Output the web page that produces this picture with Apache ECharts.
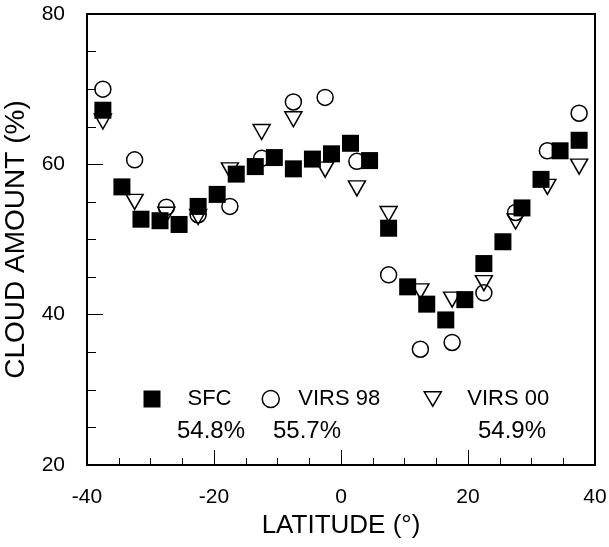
<!DOCTYPE html>
<html>
<head>
<meta charset="utf-8">
<script src="https://cdn.jsdelivr.net/npm/echarts@6/dist/echarts.min.js"></script>
<style>html,body{margin:0;padding:0;background:#fff}#c{width:609px;height:547px}</style>
</head>
<body>
<div id="c"></div>
<script>
// SFC: every 3 degrees of latitude
const sfcLat = [-37.5,-34.5,-31.5,-28.5,-25.5,-22.5,-19.5,-16.5,-13.5,-10.5,-7.5,-4.5,-1.5,1.5,4.5,7.5,10.5,13.5,16.5,19.5,22.5,25.5,28.5,31.5,34.5,37.5];
const sfcVal = [67.2,57.0,52.7,52.5,52.0,54.4,56.0,58.7,59.7,60.9,59.4,60.7,61.4,62.8,60.5,51.5,43.7,41.4,39.3,42.0,46.8,49.7,54.2,58.0,61.8,63.2];
// VIRS: every 5 degrees of latitude
const virsLat = [-37.5,-32.5,-27.5,-22.5,-17.5,-12.5,-7.5,-2.5,2.5,7.5,12.5,17.5,22.5,27.5,32.5,37.5];
const virs98Val = [70.0,60.6,54.3,53.3,54.4,60.8,68.3,68.9,60.4,45.3,35.4,36.3,42.9,53.6,61.8,66.8];
const virs00Val = [65.7,55.0,53.3,53.0,59.2,64.3,66.0,59.3,56.8,53.4,43.1,42.0,44.2,52.4,57.0,59.7];
const seriesNames = ['SFC','VIRS 98','VIRS 00'];
const meanLabels = ['54.8%','55.7%','54.9%'];
const xTicks = [-40,-20,0,20,40];
const yTicks = [20,40,60,80];

const FONT = '"Liberation Sans", Arial, Helvetica, sans-serif';
const pair = (xs, ys) => xs.map((x,i)=>[x, ys[i]]);
const downTri = 'path://M0,0 L20,0 L10,17 Z';

const chart = echarts.init(document.getElementById('c'), null, {renderer:'canvas'});
const legendBase = {
  orient:'horizontal', itemWidth:17, itemHeight:17, selectedMode:false, padding:0, top:388,
  textStyle:{fontFamily:FONT, fontSize:22, color:'#000'}
};
const lt = (pad) => Object.assign({}, legendBase.textStyle, {padding:[0,0,0,pad]});
chart.setOption({
  animation:false,
  backgroundColor:'#fff',
  grid:{left:87, right:14, top:14, bottom:82, outerBoundsMode:'none', containLabel:false,
        show:true, borderColor:'#000', borderWidth:2, backgroundColor:'transparent'},
  xAxis:{
    type:'value', min:xTicks[0], max:xTicks[xTicks.length-1], interval:20,
    name:'LATITUDE (°)', nameLocation:'middle', nameGap:48,
    nameTextStyle:{fontFamily:FONT, fontSize:26, color:'#000'},
    axisLine:{show:true, onZero:false, lineStyle:{color:'#000', width:2}},
    axisTick:{show:true, inside:true, length:15, lineStyle:{color:'#000', width:1}},
    minorTick:{show:true, splitNumber:4, length:7, lineStyle:{color:'#000', width:1}},
    splitLine:{show:false},
    axisLabel:{fontFamily:FONT, fontSize:21, color:'#000', margin:22}
  },
  yAxis:{
    type:'value', min:yTicks[0], max:yTicks[yTicks.length-1], interval:20,
    name:'CLOUD AMOUNT (%)', nameLocation:'middle', nameGap:42,
    nameTextStyle:{fontFamily:FONT, fontSize:28, color:'#000'},
    axisLine:{show:true, onZero:false, lineStyle:{color:'#000', width:2}},
    axisTick:{show:true, inside:true, length:16, lineStyle:{color:'#000', width:1}},
    minorTick:{show:true, splitNumber:4, length:9, lineStyle:{color:'#000', width:1}},
    splitLine:{show:false},
    axisLabel:{fontFamily:FONT, fontSize:21, color:'#000', margin:22}
  },
  legend:[
    Object.assign({}, legendBase, {left:143.5, data:[{name:seriesNames[0], icon:'rect'}],
      itemStyle:{color:'#000', borderWidth:0}, textStyle:lt(22)}),
    Object.assign({}, legendBase, {left:261.5, data:[{name:seriesNames[1], icon:'circle'}],
      itemStyle:{color:'transparent', borderColor:'#000', borderWidth:1.5}, textStyle:lt(14)}),
    Object.assign({}, legendBase, {left:423.5, data:[{name:seriesNames[2], icon:downTri}],
      itemWidth:17, itemHeight:15,
      itemStyle:{color:'transparent', borderColor:'#000', borderWidth:1.5}, textStyle:lt(21)})
  ],
  graphic:[
    {type:'text', left:177, top:419, style:{text:meanLabels[0], font:'24px '+FONT, fill:'#000'}},
    {type:'text', left:273, top:419, style:{text:meanLabels[1], font:'24px '+FONT, fill:'#000'}},
    {type:'text', left:478, top:419, style:{text:meanLabels[2], font:'24px '+FONT, fill:'#000'}}
  ],
  series:[
    {name:seriesNames[1], type:'scatter', symbol:'circle', symbolSize:16, z:2,
     itemStyle:{color:'transparent', borderColor:'#000', borderWidth:1.5, opacity:1},
     data:pair(virsLat, virs98Val)},
    {name:seriesNames[2], type:'scatter', symbol:downTri, symbolSize:[17,15], z:3,
     itemStyle:{color:'transparent', borderColor:'#000', borderWidth:1.5, opacity:1},
     data:pair(virsLat, virs00Val)},
    {name:seriesNames[0], type:'scatter', symbol:'rect', symbolSize:17, z:4,
     itemStyle:{color:'#000', opacity:1},
     data:pair(sfcLat, sfcVal)}
  ]
});
</script>
</body>
</html>
